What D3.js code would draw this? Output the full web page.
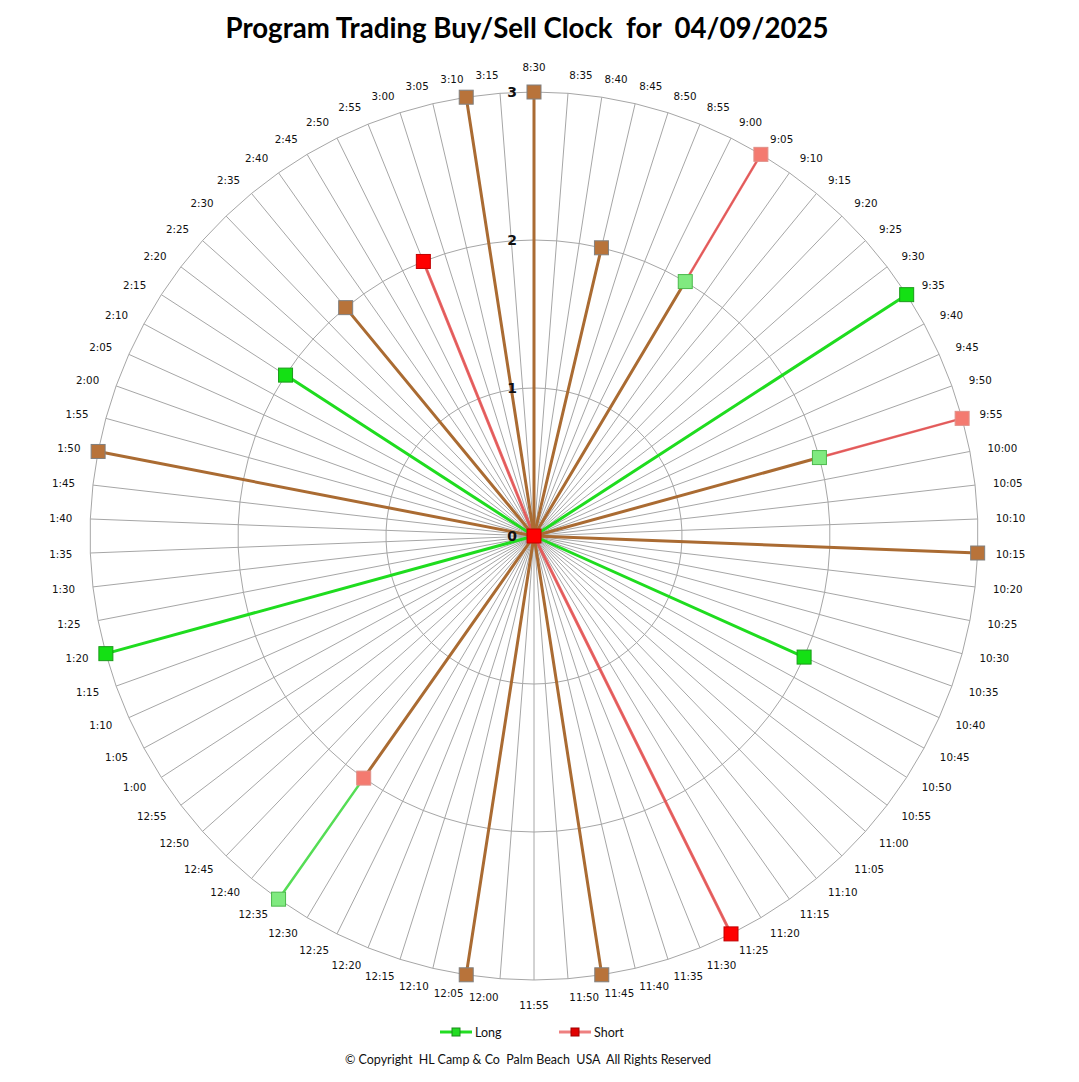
<!DOCTYPE html>
<html>
<head>
<meta charset="utf-8">
<script src="https://cdn.jsdelivr.net/npm/d3@7"></script>
<style>
  body { margin: 0; background: #fff; }
  svg { display: block; }
</style>
</head>
<body>
<svg width="1079" height="1082"></svg>
<script>
// spoke labels, 5 minute steps from the open to 3:15
const times = [
    "8:30","8:35","8:40","8:45","8:50","8:55",
    "9:00","9:05","9:10","9:15","9:20","9:25","9:30","9:35","9:40","9:45","9:50","9:55",
    "10:00","10:05","10:10","10:15","10:20","10:25","10:30","10:35","10:40","10:45","10:50","10:55",
    "11:00","11:05","11:10","11:15","11:20","11:25","11:30","11:35","11:40","11:45","11:50","11:55",
    "12:00","12:05","12:10","12:15","12:20","12:25","12:30","12:35","12:40","12:45","12:50","12:55",
    "1:00","1:05","1:10","1:15","1:20","1:25","1:30","1:35","1:40","1:45","1:50","1:55",
    "2:00","2:05","2:10","2:15","2:20","2:25","2:30","2:35","2:40","2:45","2:50","2:55",
    "3:00","3:05","3:10","3:15"
]

const longVals = [
    3,0,0,2,0,0,0,2,0,0,
    0,0,0,3,0,0,0,2,0,0,
    0,3,0,0,0,0,2,0,0,0,
    0,0,0,0,0,0,0,0,0,3,
    0,0,0,3,0,0,0,0,0,3,
    0,0,0,0,0,0,0,0,3,0,
    0,0,0,0,3,0,0,0,0,2,
    0,0,0,2,0,0,0,0,0,0,
    3,0
]

const shortVals = [
    3,0,0,2,0,0,0,3,0,0,
    0,0,0,0,0,0,0,3,0,0,
    0,3,0,0,0,0,0,0,0,0,
    0,0,0,0,0,3,0,0,0,3,
    0,0,0,3,0,0,0,0,0,2,
    0,0,0,0,0,0,0,0,0,0,
    0,0,0,0,3,0,0,0,0,0,
    0,0,0,2,0,0,0,2,0,0,
    3,0
]

const ringTicks = [0, 1, 2, 3]

const cx = 534, cy = 536

var svg = d3.select("svg")

var r = d3.scaleLinear()
    .domain([0, 3])
    .range([0, 444])

var ang = d3.scaleLinear()
    .domain([0, times.length])
    .range([0, 2 * Math.PI])

const px = (i, v) => cx + r(v) * Math.sin(ang(i))
const py = (i, v) => cy - r(v) * Math.cos(ang(i))

// title
svg.append("text")
    .attr("x", 527).attr("y", 38)
    .attr("text-anchor", "middle")
    .attr("font-family", "Lato, 'Open Sans', sans-serif")
    .attr("font-weight", "bold")
    .attr("font-size", 28)
    .attr("textLength", 603)
    .attr("lengthAdjust", "spacingAndGlyphs")
    .attr("fill", "#000")
    .style("white-space", "pre")
    .text("Program Trading Buy/Sell Clock  for  04/09/2025")

// grid: spokes and rings
var grid = svg.append("g")

grid.selectAll("line.spoke")
    .data(times)
    .join("line")
    .attr("class", "spoke")
    .attr("x1", cx).attr("y1", cy)
    .attr("x2", (d, i) => px(i, 3))
    .attr("y2", (d, i) => py(i, 3))
    .attr("stroke", "#a6a6a6")
    .attr("stroke-width", 1)

var ringLine = d3.lineRadial()
    .angle((d, i) => ang(i))
    .curve(d3.curveLinearClosed)

grid.selectAll("path.ring")
    .data(ringTicks.slice(1))
    .join("path")
    .attr("class", "ring")
    .attr("transform", `translate(${cx},${cy})`)
    .attr("d", v => ringLine.radius(r(v))(times))
    .attr("fill", "none")
    .attr("stroke", "#a6a6a6")
    .attr("stroke-width", 1)

// spoke labels: start/end anchored at a point just outside the outer ring
const labelR = 462
var lab = svg.append("g")
    .attr("font-family", "'DejaVu Sans', Verdana, sans-serif")
    .attr("font-size", 10.3)
    .attr("fill", "#111")

lab.selectAll("text")
    .data(times)
    .join("text")
    .attr("dominant-baseline", "central")
    .each(function (d, i) {
        var s = Math.sin(ang(i)), c = Math.cos(ang(i))
        var el = d3.select(this)
            .attr("x", cx + labelR * s)
            .attr("y", cy - labelR * c)
        if (Math.abs(s) < 0.01) {
            el.attr("text-anchor", "middle")
                .attr("y", cy - labelR * c - c * 7)
        } else {
            el.attr("text-anchor", s > 0 ? "start" : "end")
        }
    })
    .text(d => d)

// series segments
const cBrown = "#aa6b32"
const cGreen = "#1fdc1f"
const cRed = "#e64a4a"

var segs = []
times.forEach((t, i) => {
    var L = longVals[i], S = shortVals[i]
    var lo = Math.min(L, S), hi = Math.max(L, S)
    if (lo > 0) segs.push({ i: i, a: 0, b: lo, c: cBrown, w: 3, o: 1 })
    if (hi > lo) {
        var isLong = L > S
        var both = lo > 0
        segs.push({
            i: i, a: lo, b: hi,
            c: isLong ? (both ? "#55dd55" : cGreen) : cRed,
            w: both ? 2.5 : 3,
            o: isLong ? 1 : 0.85
        })
    }
})

svg.append("g")
    .selectAll("line")
    .data(segs)
    .join("line")
    .attr("x1", d => px(d.i, d.a)).attr("y1", d => py(d.i, d.a))
    .attr("x2", d => px(d.i, d.b)).attr("y2", d => py(d.i, d.b))
    .attr("stroke", d => d.c)
    .attr("stroke-width", d => d.w)
    .attr("stroke-opacity", d => d.o)
    .attr("stroke-linecap", "round")

// markers
var marks = []
times.forEach((t, i) => {
    var L = longVals[i], S = shortVals[i]
    if (L > 0 && L === S) {
        marks.push({ i: i, v: L, fill: "#b8733a", stroke: "#808080" })
        return
    }
    if (L > 0) marks.push({ i: i, v: L, fill: S > 0 ? "#80ea80" : "#14e014", stroke: S > 0 ? "#4cb84c" : "#1a9a1a" })
    if (S > 0) marks.push({ i: i, v: S, fill: L > 0 ? "#f47a70" : "#ff0000", stroke: L > 0 ? "#e09088" : "#c00000" })
})
// zero values sit in the middle, short on top
marks.push({ i: 0, v: 0, fill: "#ff0000", stroke: "#c00000" })

const ms = 14
svg.append("g")
    .selectAll("rect")
    .data(marks)
    .join("rect")
    .attr("x", d => px(d.i, d.v) - ms / 2)
    .attr("y", d => py(d.i, d.v) - ms / 2)
    .attr("width", ms).attr("height", ms)
    .attr("fill", d => d.fill)
    .attr("stroke", d => d.stroke)
    .attr("stroke-width", 1)

// ring value labels along the top spoke
svg.append("g")
    .selectAll("text")
    .data(ringTicks)
    .join("text")
    .attr("x", cx - 17)
    .attr("y", d => cy - r(d))
    .attr("text-anchor", "end")
    .attr("dominant-baseline", "central")
    .attr("font-family", "'DejaVu Sans', Verdana, sans-serif")
    .attr("font-weight", "bold")
    .attr("font-size", 14)
    .attr("fill", "#111")
    .text(d => d)

// legend
const legendItems = [
    { name: "Long", line: "#22dd22", fill: "#22dd22", stroke: "#1a8a1a", x: 440 },
    { name: "Short", line: "#ee8080", fill: "#e00000", stroke: "#a00000", x: 559 }
]
var leg = svg.append("g")
legendItems.forEach(it => {
    var g = leg.append("g").attr("transform", `translate(${it.x},1032)`)
    g.append("line").attr("x1", 0).attr("x2", 32).attr("y1", 0).attr("y2", 0)
        .attr("stroke", it.line).attr("stroke-width", 3)
    g.append("rect").attr("x", 12).attr("y", -4).attr("width", 8).attr("height", 8)
        .attr("fill", it.fill).attr("stroke", it.stroke)
    g.append("text").attr("x", 35).attr("y", 0)
        .attr("dominant-baseline", "central")
        .attr("font-family", "Lato, 'Open Sans', sans-serif")
        .attr("font-size", 12.5)
        .attr("fill", "#111")
        .text(it.name)
})

svg.append("text")
    .attr("x", 528).attr("y", 1059)
    .attr("text-anchor", "middle")
    .attr("dominant-baseline", "central")
    .attr("font-family", "Lato, 'Open Sans', sans-serif")
    .attr("font-size", 12.5)
    .attr("textLength", 366)
    .attr("lengthAdjust", "spacingAndGlyphs")
    .attr("fill", "#111")
    .style("white-space", "pre")
    .text("© Copyright  HL Camp & Co  Palm Beach  USA  All Rights Reserved")
</script>
</body>
</html>
